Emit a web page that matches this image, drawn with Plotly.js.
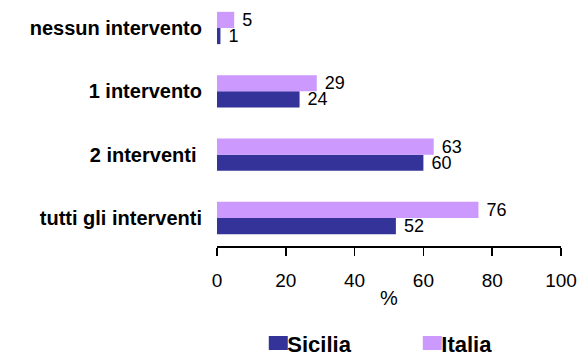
<!DOCTYPE html>
<html>
<head>
<meta charset="utf-8">
<script src="https://cdn.plot.ly/plotly-3.0.1.min.js"></script>
<style>html,body{margin:0;padding:0;background:#fff;}#chart{width:580px;height:354px;}</style>
</head>
<body>
<div id="chart"></div>
<script>
// categories listed bottom-to-top
var categories = ["tutti gli interventi", "2 interventi\u00a0", "1 intervento", "nessun intervento"];
var sicilia = [52, 60, 24, 1];
var italia = [76, 63, 29, 5];
var xTicks = [0, 20, 40, 60, 80, 100];

var FONT = "Liberation Sans, Arial, sans-serif";

var traces = [
  {
    type: "bar", orientation: "h", name: "Sicilia",
    y: categories, x: sicilia,
    marker: {color: "#333399"},
    text: sicilia.map(String), texttemplate: " %{text}",
    textposition: "outside", cliponaxis: false, constraintext: "none",
    textfont: {family: FONT, size: 18, color: "#000"},
    hoverinfo: "none"
  },
  {
    type: "bar", orientation: "h", name: "Italia",
    y: categories, x: italia,
    marker: {color: "#CC99FF"},
    text: italia.map(String), texttemplate: " %{text}",
    textposition: "outside", cliponaxis: false, constraintext: "none",
    textfont: {family: FONT, size: 18, color: "#000"},
    hoverinfo: "none"
  }
];

var layout = {
  width: 580, height: 354,
  margin: {l: 216.5, r: 18.5, t: 0, b: 108, autoexpand: false},
  paper_bgcolor: "#fff", plot_bgcolor: "#fff",
  font: {family: FONT, size: 18, color: "#000"},
  barmode: "group", bargap: 0.49, bargroupgap: 0,
  showlegend: true,
  legend: {
    orientation: "h", x: 0.12, xanchor: "left", y: -0.395, yanchor: "middle",
    font: {family: FONT, size: 22, color: "#000", weight: "bold"},
    entrywidth: 109, entrywidthmode: "pixels", itemclick: false
  },
  xaxis: {
    range: [0, 100], tickvals: xTicks, ticktext: xTicks.map(String),
    showgrid: false, zeroline: false, automargin: false,
    showline: true, linecolor: "#000", linewidth: 1.5,
    ticks: "outside", ticklen: 8, tickwidth: 1.5, tickcolor: "#000",
    tickfont: {family: FONT, size: 19, color: "#000"},
    ticklabelstandoff: 9,
    title: {text: "%", font: {family: FONT, size: 20, color: "#000"}, standoff: 0},
    fixedrange: true
  },
  yaxis: {
    type: "category", range: [-0.442, 3.442], automargin: false,
    showgrid: false, zeroline: false, showline: false, ticks: "",
    tickfont: {family: FONT, size: 20, color: "#000", weight: "bold"},
    ticklabelstandoff: 14,
    fixedrange: true
  }
};

Plotly.newPlot("chart", traces, layout, {staticPlot: true, displayModeBar: false}).then(function (gd) {
  // legend keys drawn as wider rectangles, with the label close to the key
  var items = gd.querySelectorAll(".legend .traces");
  items.forEach(function (g) {
    g.querySelectorAll(".legendpoints path").forEach(function (p) {
      p.setAttribute("d", "M-9.5,-7H9.5V7H-9.5Z");
    });
    var t = g.querySelector("text.legendtext");
    if (t) t.setAttribute("transform", "translate(-11,0)");
  });
});
</script>
</body>
</html>
